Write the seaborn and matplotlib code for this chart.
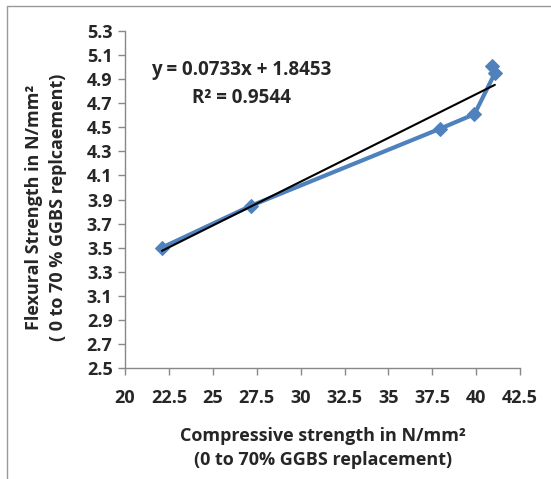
import matplotlib
matplotlib.use("Agg")
import matplotlib.pyplot as plt
import seaborn as sns
import numpy as np
import pandas as pd
from matplotlib.lines import Line2D

compressive = [22.1, 27.2, 37.96, 39.9, 41.06, 40.9]
flexural = [3.50, 3.85, 4.49, 4.61, 4.95, 5.01]
x_ticks = [20, 22.5, 25, 27.5, 30, 32.5, 35, 37.5, 40, 42.5]
y_ticks = [2.5, 2.7, 2.9, 3.1, 3.3, 3.5, 3.7, 3.9, 4.1, 4.3, 4.5, 4.7, 4.9, 5.1, 5.3]
equation = "y = 0.0733x + 1.8453"
r2_text = "R² = 0.9544"
x_label = "Compressive strength in N/mm²\n(0 to 70% GGBS replacement)"
y_label = "Flexural Strength in N/mm²\n( 0 to 70 % GGBS replcaement)"

df = pd.DataFrame({"x": compressive, "y": flexural})

sns.set_theme(style="white")
plt.rcParams['font.family'] = ['Open Sans', 'DejaVu Sans']
plt.rcParams['font.weight'] = 'bold'

fig = plt.figure(figsize=(5.51, 4.79), dpi=100)
ax = fig.add_axes([0.227, 0.232, 0.717, 0.703])

sns.lineplot(data=df, x="x", y="y", sort=False, marker="D", markersize=7,
             color="#4F81BD", linewidth=3, markeredgecolor="#4F81BD", ax=ax)
sns.regplot(data=df, x="x", y="y", scatter=False, ci=None, color="black",
            line_kws={"linewidth": 1.5}, ax=ax)

ax.set_xlim(20, 42.5)
ax.set_ylim(2.5, 5.3)
ax.set_xticks(x_ticks)
ax.set_xticklabels([f"{v:g}" for v in x_ticks])
ax.set_yticks(y_ticks)
ax.set_yticklabels([f"{v:.1f}" for v in y_ticks])
ax.tick_params(axis="both", which="both", direction="out", length=5, width=1,
               color="#888888", labelsize=13, pad=4, bottom=True, left=True)
for lab in ax.get_xticklabels() + ax.get_yticklabels():
    lab.set_fontweight("bold")
ax.tick_params(axis="x", pad=10)

for s in ["top", "right"]:
    ax.spines[s].set_visible(False)
for s in ["left", "bottom"]:
    ax.spines[s].set_color("#888888")
    ax.spines[s].set_linewidth(1)

ax.set_xlabel(x_label, fontsize=13, fontweight="bold", linespacing=1.45, va="center")
ax.xaxis.set_label_coords(0.5, -0.237)
ax.set_ylabel(y_label, fontsize=13, fontweight="bold", linespacing=1.45, va="center")
ax.yaxis.set_label_coords(-0.2, 0.478)

ax.text(0.294, 0.884, equation, transform=ax.transAxes, ha="center", va="center",
        fontsize=13.5, fontweight="bold")
ax.text(0.294, 0.801, r2_text, transform=ax.transAxes, ha="center",
        va="center", fontsize=13.5, fontweight="bold")

# chart frame (top and left edges visible)
fig.add_artist(Line2D([7/551, 1], [1 - 6/479, 1 - 6/479], transform=fig.transFigure,
                      color="#999999", linewidth=1))
fig.add_artist(Line2D([7/551, 7/551], [0, 1 - 6/479], transform=fig.transFigure,
                      color="#999999", linewidth=1))

fig.savefig("out.png", dpi=100)
